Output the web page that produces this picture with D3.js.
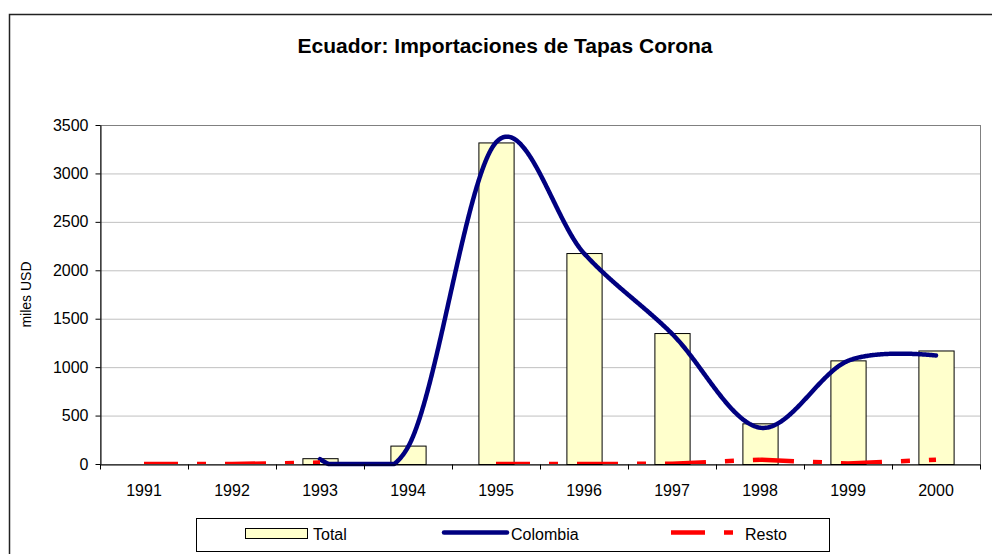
<!DOCTYPE html>
<html>
<head>
<meta charset="utf-8">
<script src="https://cdn.jsdelivr.net/npm/d3@7/dist/d3.min.js"></script>
<style>
	html, body {margin: 0; padding: 0; background: #fff;}
	svg {display: block; font-family: Arial, "Liberation Sans", sans-serif;}
</style>
</head>
<body>
<svg id="chart" width="992" height="554"></svg>
<script>
// Values (miles USD)
const years = ["1991", "1992", "1993", "1994", "1995", "1996", "1997", "1998", "1999", "2000"];
const total = [0, 0, 60, 190, 3320, 2178, 1352, 420, 1070, 1172];
const colombia = [null, null, 50, 175, 3320, 2175, 1345, 375, 1065, 1120];
const resto = [0, 0, 15, null, 0, 0, 3, 45, 5, 45];
const yTicks = [0, 500, 1000, 1500, 2000, 2500, 3000, 3500];

const svg = d3.select("#chart");
const plot = {left: 100, right: 980, top: 125, bottom: 464};

// chart frame (runs past the window on the right and bottom)
svg.append("rect")
.attr("x", 9.5)
.attr("y", 14.5)
.attr("width", 1000)
.attr("height", 600)
.attr("fill", "#fff")
.attr("stroke", "#222")
.attr("stroke-width", 1.5);

svg.append("text")
.attr("x", 505)
.attr("y", 53)
.attr("text-anchor", "middle")
.attr("font-size", 21)
.attr("font-weight", "bold")
.text("Ecuador: Importaciones de Tapas Corona");

const x = d3.scaleBand()
.domain(years)
.range([plot.left, plot.right]);

const xBar = d3.scaleBand()
.domain(years)
.range([plot.left, plot.right])
.paddingInner(0.6)
.paddingOuter(0.3);

const xEdge = d3.scaleLinear()
.domain([0, years.length])
.range([plot.left, plot.right]);

const y = d3.scaleLinear()
.domain([0, 3500])
.range([plot.bottom, plot.top]);

const cx = (i) => x(years[i]) + x.bandwidth() / 2;

// gridlines
svg.append("g")
.selectAll("line")
.data(yTicks.filter((t) => t > 0 && t < 3500))
.enter()
.append("line")
.attr("x1", plot.left)
.attr("x2", plot.right)
.attr("y1", (d) => y(d) + 0.5)
.attr("y2", (d) => y(d) + 0.5)
.attr("stroke", "#c0c0c0");

svg.append("rect")
.attr("x", plot.left + 0.5)
.attr("y", plot.top + 0.5)
.attr("width", plot.right - plot.left)
.attr("height", plot.bottom - plot.top)
.attr("fill", "none")
.attr("stroke", "#808080");

// Total bars
svg.append("g")
.selectAll("rect")
.data(years.map((yr, i) => ({yr, v: total[i]})).filter((d) => d.v > 0))
.enter()
.append("rect")
.attr("x", (d) => xBar(d.yr) + 0.5)
.attr("y", (d) => y(d.v) + 0.5)
.attr("width", xBar.bandwidth())
.attr("height", (d) => plot.bottom - y(d.v))
.attr("fill", "#ffffcc")
.attr("stroke", "#000");

// Colombia: smoothed line, sampled and held at the axis where the curve dips below it
const colPts = colombia.map((v, i) => [cx(i), v]).filter((p) => p[1] !== null);
const smooth = d3.line()
.x((p) => p[0])
.y((p) => y(p[1]))
.curve(d3.curveCardinal.tension(0));

const tmp = svg.append("path").attr("d", smooth(colPts)).attr("fill", "none");
const len = tmp.node().getTotalLength();
const sampled = d3.range(0, len, 1).concat([len]).map((l) => {
	const pt = tmp.node().getPointAtLength(l);
	return [pt.x, Math.min(pt.y, y(0))];
});
tmp.remove();

svg.append("path")
.attr("d", d3.line()(sampled))
.attr("fill", "none")
.attr("stroke", "#000080")
.attr("stroke-width", 4.5)
.attr("stroke-linejoin", "round")
.attr("stroke-linecap", "round");

// Resto: dashed, pattern restarts on every segment, clipped to the plot area
svg.append("clipPath")
.attr("id", "plotClip")
.append("rect")
.attr("x", plot.left)
.attr("y", plot.top)
.attr("width", plot.right - plot.left)
.attr("height", plot.bottom - plot.top);

const restoSegs = d3.pairs(resto.map((v, i) => [cx(i), v]))
.filter(([a, b]) => a[1] !== null && b[1] !== null);

svg.append("g")
.attr("clip-path", "url(#plotClip)")
.selectAll("path")
.data(restoSegs)
.enter()
.append("path")
.attr("d", (seg) => d3.line().x((p) => p[0]).y((p) => y(p[1]))(seg))
.attr("fill", "none")
.attr("stroke", "#ff0000")
.attr("stroke-width", 4.5)
.attr("stroke-dasharray", "34,19,9,19");

// axes
const yAxis = svg.append("g")
.attr("transform", `translate(${plot.left + 0.5},0)`)
.call(d3.axisLeft(y).tickValues(yTicks).tickFormat(d3.format("d")).tickSize(5).tickSizeOuter(0).tickPadding(7));

yAxis.selectAll("text").attr("font-size", 16).attr("fill", "#000").attr("font-family", null);
yAxis.selectAll("line, path").attr("stroke", "#000");

const xTicks = svg.append("g")
.attr("transform", `translate(0,${plot.bottom + 0.5})`)
.call(d3.axisBottom(xEdge).tickValues(d3.range(0, years.length + 1)).tickSize(5).tickSizeOuter(0).tickFormat(""));

xTicks.selectAll("line, path").attr("stroke", "#000");

const xLabels = svg.append("g")
.attr("transform", `translate(0,${plot.bottom})`)
.call(d3.axisBottom(x).tickSize(0).tickPadding(21));

xLabels.select(".domain").remove();
xLabels.selectAll("text").attr("font-size", 16).attr("fill", "#000").attr("font-family", null);

svg.append("text")
.attr("transform", `translate(31,${(plot.top + plot.bottom) / 2}) rotate(-90)`)
.attr("text-anchor", "middle")
.attr("font-size", 14)
.text("miles USD");

// legend
const legend = svg.append("g");

legend.append("rect")
.attr("x", 196.5)
.attr("y", 518.5)
.attr("width", 633)
.attr("height", 33)
.attr("fill", "#fff")
.attr("stroke", "#000");

legend.append("rect")
.attr("x", 245.5)
.attr("y", 528.5)
.attr("width", 62)
.attr("height", 10)
.attr("fill", "#ffffcc")
.attr("stroke", "#000");

legend.append("line")
.attr("x1", 444)
.attr("x2", 507)
.attr("y1", 532.5)
.attr("y2", 532.5)
.attr("stroke", "#000080")
.attr("stroke-width", 4.5)
.attr("stroke-linecap", "round");

legend.append("line")
.attr("x1", 671)
.attr("x2", 733)
.attr("y1", 532.5)
.attr("y2", 532.5)
.attr("stroke", "#ff0000")
.attr("stroke-width", 4.5)
.attr("stroke-dasharray", "34,19,9,19");

legend.selectAll("text.lbl")
.data([["Total", 313], ["Colombia", 511], ["Resto", 745]])
.enter()
.append("text")
.attr("class", "lbl")
.attr("x", (d) => d[1])
.attr("y", 540)
.attr("font-size", 16)
.text((d) => d[0]);
</script>
</body>
</html>
